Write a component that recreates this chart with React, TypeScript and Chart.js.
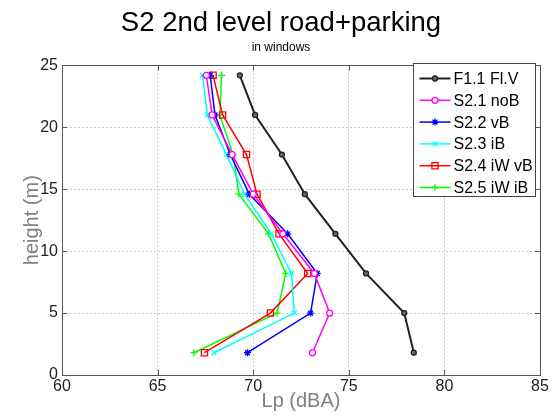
import React, { useEffect, useRef } from "react";
import { Chart, registerables } from "chart.js";

Chart.register(...registerables);

const titleText = "S2 2nd level road+parking";
const subtitleText = "in windows";
const xAxisLabel = "Lp (dBA)";
const yAxisLabel = "height (m)";

const heights = [1.8, 5, 8.2, 11.4, 14.6, 17.8, 21, 24.2];
const f11FlV = [78.4, 77.9, 75.9, 74.3, 72.7, 71.5, 70.1, 69.3];
const s21noB = [73.1, 74.0, 73.2, 71.55, 70.0, 68.9, 67.85, 67.55];
const s22vB = [69.7, 73.0, 73.35, 71.8, 69.8, 68.8, 68.0, 67.75];
const s23iB = [67.95, 72.15, 72.0, 70.95, 69.55, 68.6, 67.6, 67.35];
const s24iWvB = [67.45, 70.9, 72.85, 71.35, 70.2, 69.65, 68.4, 67.9];
const s25iWiB = [66.9, 71.25, 71.7, 70.8, 69.25, 68.95, 68.25, 68.35];

const seriesLabels = ["F1.1 Fl.V", "S2.1 noB", "S2.2 vB", "S2.3 iB", "S2.4 iW vB", "S2.5 iW iB"];
const seriesValues = [f11FlV, s21noB, s22vB, s23iB, s24iWvB, s25iWiB];

const xMin = 60;
const xMax = 85;
const yMin = 0;
const yMax = 25;
const tickStep = 5;

const FONT = "'Liberation Sans', Arial, Helvetica, sans-serif";

const styles = [
  { color: "#222222", fill: "#666666", shape: "circle", radius: 2.5, width: 2 },
  { color: "#ff00ff", fill: "#ffffff", shape: "circle", radius: 3, width: 1.5 },
  { color: "#0000ff", fill: "#0000ff", shape: "star", radius: 3.5, width: 1.5 },
  { color: "#00ffff", fill: "#00ffff", shape: "crossRot", radius: 3.5, width: 1.5 },
  { color: "#ff0000", fill: "rgba(255,255,255,0)", shape: "rect", radius: 4.4, width: 1.5 },
  { color: "#00ff00", fill: "#00ff00", shape: "cross", radius: 3.5, width: 1.5 },
];

function drawMarker(ctx: CanvasRenderingContext2D, shape: string, x: number, y: number, r: number, color: string, fill: string) {
  ctx.save();
  ctx.strokeStyle = color;
  ctx.fillStyle = fill;
  ctx.lineWidth = 1.3;
  ctx.beginPath();
  if (shape === "circle") {
    ctx.arc(x, y, r, 0, Math.PI * 2);
    ctx.fill();
    ctx.stroke();
  } else if (shape === "rect") {
    const s = Math.SQRT1_2 * r;
    ctx.rect(x - s, y - s, 2 * s, 2 * s);
    ctx.stroke();
  } else if (shape === "cross") {
    ctx.moveTo(x - r, y);
    ctx.lineTo(x + r, y);
    ctx.moveTo(x, y - r);
    ctx.lineTo(x, y + r);
    ctx.stroke();
  } else if (shape === "crossRot") {
    const d = r * Math.SQRT1_2;
    ctx.moveTo(x - d, y - d);
    ctx.lineTo(x + d, y + d);
    ctx.moveTo(x - d, y + d);
    ctx.lineTo(x + d, y - d);
    ctx.stroke();
  } else if (shape === "star") {
    const d = r * Math.SQRT1_2;
    ctx.moveTo(x - r, y);
    ctx.lineTo(x + r, y);
    ctx.moveTo(x, y - r);
    ctx.lineTo(x, y + r);
    ctx.moveTo(x - d, y - d);
    ctx.lineTo(x + d, y + d);
    ctx.moveTo(x - d, y + d);
    ctx.lineTo(x + d, y - d);
    ctx.stroke();
  }
  ctx.restore();
}

const framePlugin = {
  id: "matlabFrame",
  afterDraw(chart: any) {
    const { ctx, chartArea, scales } = chart;
    const { left, right, top, bottom } = chartArea;
    ctx.save();
    ctx.strokeStyle = "#555555";
    ctx.lineWidth = 1;
    ctx.strokeRect(Math.round(left) + 0.5, Math.round(top) + 0.5, Math.round(right - left), Math.round(bottom - top));
    // inward tick marks
    const tl = 5;
    ctx.beginPath();
    for (let v = xMin; v <= xMax; v += tickStep) {
      const px = Math.round(scales.x.getPixelForValue(v)) + 0.5;
      ctx.moveTo(px, bottom);
      ctx.lineTo(px, bottom - tl);
      ctx.moveTo(px, top);
      ctx.lineTo(px, top + tl);
    }
    for (let v = yMin; v <= yMax; v += tickStep) {
      const py = Math.round(scales.y.getPixelForValue(v)) + 0.5;
      ctx.moveTo(left, py);
      ctx.lineTo(left + tl, py);
      ctx.moveTo(right, py);
      ctx.lineTo(right - tl, py);
    }
    ctx.stroke();

    // legend box
    const bx = 413.5;
    const by = Math.round(top) - 1.5;
    const bw = 122;
    const bh = 133;
    ctx.fillStyle = "#ffffff";
    ctx.fillRect(bx, by, bw, bh);
    ctx.strokeStyle = "#444444";
    ctx.strokeRect(bx, by, bw, bh);
    ctx.font = `16px ${FONT}`;
    ctx.textBaseline = "middle";
    ctx.textAlign = "left";
    chart.data.datasets.forEach((ds: any, i: number) => {
      const st = styles[i];
      const y = by + 15 + i * 21.8;
      ctx.strokeStyle = st.color;
      ctx.lineWidth = st.width;
      ctx.beginPath();
      ctx.moveTo(bx + 6, y);
      ctx.lineTo(bx + 37, y);
      ctx.stroke();
      drawMarker(ctx, st.shape, bx + 21.5, y, st.radius, st.color, st.fill);
      ctx.fillStyle = "#000000";
      ctx.fillText(ds.label, bx + 40, y + 1);
    });
    ctx.restore();
  },
};

export default function App() {
  const canvasRef = useRef<HTMLCanvasElement | null>(null);

  useEffect(() => {
    const canvas = canvasRef.current;
    if (!canvas) return;
    const datasets = seriesValues.map((vals, i) => {
      const st = styles[i];
      return {
        label: seriesLabels[i],
        data: vals.map((v, j) => ({ x: v, y: heights[j] })),
        showLine: true,
        borderColor: st.color,
        backgroundColor: st.fill,
        borderWidth: st.width,
        pointStyle: st.shape,
        pointRadius: st.radius,
        pointBorderWidth: 1.3,
        pointBorderColor: st.color,
        pointBackgroundColor: st.fill,
        tension: 0,
      };
    });
    const chart = new Chart(canvas, {
      type: "scatter",
      data: { datasets },
      plugins: [framePlugin],
      options: {
        animation: false,
        responsive: false,
        maintainAspectRatio: false,
        layout: { padding: { left: 22, right: 12, top: 0, bottom: 0 } },
        plugins: {
          legend: { display: false },
          tooltip: { enabled: false },
          title: {
            display: true,
            text: titleText,
            color: "#000000",
            font: { family: FONT, size: 27.5, weight: "normal", lineHeight: 1.2 },
            padding: { top: 7, bottom: 0 },
          },
          subtitle: {
            display: true,
            text: subtitleText,
            color: "#000000",
            font: { family: FONT, size: 12, weight: "normal", lineHeight: 1.2 },
            padding: { top: 0, bottom: 11 },
          },
        },
        scales: {
          x: {
            type: "linear",
            min: xMin,
            max: xMax,
            ticks: {
              stepSize: tickStep,
              color: "#222222",
              font: { family: FONT, size: 16 },
              padding: 2,
            },
            grid: { color: "#c8c8c8", drawTicks: false, lineWidth: 1 },
            border: { display: false, dash: [2, 2] },
            title: {
              display: true,
              text: xAxisLabel,
              color: "#808080",
              font: { family: FONT, size: 20, lineHeight: 1 },
              padding: { top: 0, bottom: 9 },
            },
            afterFit: (scale: any) => {
              scale.height = 45;
            },
          },
          y: {
            type: "linear",
            min: yMin,
            max: yMax,
            ticks: {
              stepSize: tickStep,
              color: "#222222",
              font: { family: FONT, size: 16 },
              padding: 4,
            },
            grid: { color: "#c8c8c8", drawTicks: false, lineWidth: 1 },
            border: { display: false, dash: [2, 2] },
            title: {
              display: true,
              text: yAxisLabel,
              color: "#808080",
              font: { family: FONT, size: 20, lineHeight: 1 },
              padding: { top: 0, bottom: 0 },
            },
            afterFit: (scale: any) => {
              scale.width = 40;
            },
          },
        },
      },
    } as any);
    return () => chart.destroy();
  }, []);

  return (
    <div style={{ position: "absolute", left: 0, top: 0, width: 552, height: 420, background: "#ffffff" }}>
      <canvas ref={canvasRef} width={552} height={420} style={{ width: 552, height: 420, display: "block" }} />
    </div>
  );
}
